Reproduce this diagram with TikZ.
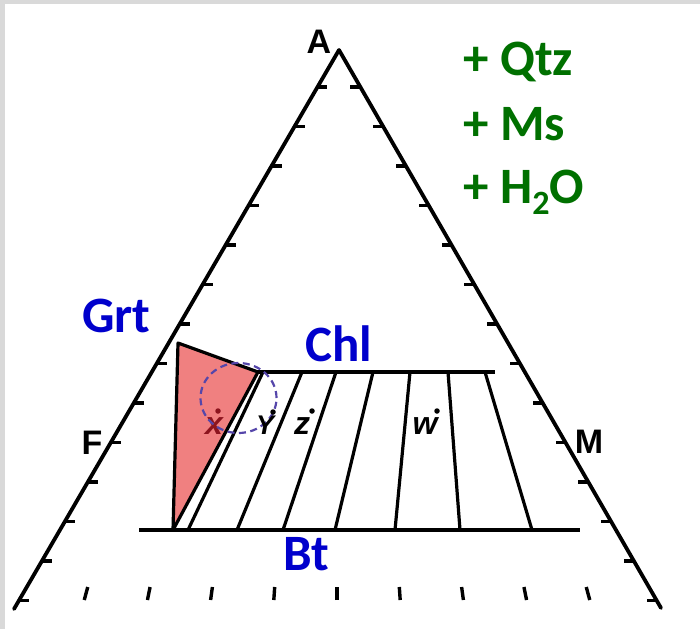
\documentclass[tikz,border=0pt]{standalone}
\usepackage{fontspec}
\usetikzlibrary{shapes.geometric}
\newfontfamily\lblfont{Carlito}
\newfontfamily\helfont{Liberation Sans}
\definecolor{lblue}{RGB}{0,0,204}
\definecolor{lgreen}{RGB}{0,112,0}
\definecolor{redfill}{RGB}{240,128,128}
\definecolor{xred}{RGB}{140,20,30}
\definecolor{circblue}{RGB}{85,70,170}
\tikzset{
  sideline/.style={line width=3.8pt, line cap=round, line join=round},
  tickline/.style={line width=3.4pt},
  tieline/.style={line width=3.2pt, line cap=round},
  baseline3/.style={line width=4pt},
  phase/.style={inner sep=0pt, anchor=base west, text=lblue, font=\lblfont\bfseries\fontsize{51}{60}\selectfont},
  extra/.style={inner sep=0pt, anchor=base west, text=lgreen, font=\lblfont\bfseries\fontsize{51}{60}\selectfont},
  corner/.style={inner sep=0pt, font=\helfont\bfseries\fontsize{34}{34}\selectfont},
  ptlabel/.style={inner sep=0pt, anchor=base, font=\helfont\bfseries\itshape\fontsize{32}{32}\selectfont},
  ptdot/.style={fill, circle, inner sep=0pt, minimum size=5.5pt}
}
\begin{document}
\begin{tikzpicture}[x=1pt,y=-1pt]
\useasboundingbox (0,0) rectangle (700,629);
\fill[gray!30] (0,0) rectangle (700,629);
\fill[white] (5,4) rectangle (700,629);

% triangle sides (no base line)
\coordinate (A) at (339,50);
\coordinate (Fc) at (14,609);
\coordinate (Mc) at (661,608);
\draw[sideline] (Fc) -- (A) -- (Mc);

% side ticks
\foreach \j in {0,...,13}{
  \pgfmathsetmacro\yy{87+39.5*\j}
  \pgfmathsetmacro\xl{339-0.5814*(\yy-50)}
  \pgfmathsetmacro\xr{339+0.5771*(\yy-50)}
  \draw[tickline] (\xl,\yy) -- ++(10,0);
  \draw[tickline] (\xr,\yy) -- ++(-10,0);
}
% bottom ticks
\foreach \k in {0,...,8}{
  \pgfmathsetmacro\xc{86+62.75*\k}
  \pgfmathsetmacro\ss{(337-\xc)*0.007}
  \draw[tickline] (\xc-\ss,600) -- (\xc+\ss,587);
}

% corner labels
\node[corner] (lA) at (319,42) {A};
\node[corner] (lF) at (92,443) {F};
\node[corner] (lM) at (589,442) {M};

% garnet triangle
\coordinate (Grt) at (178,343);
\coordinate (C1) at (258,372);
\coordinate (B1) at (173,530);
\fill[redfill] (Grt) -- (C1) -- (B1) -- cycle;

% x point (under red)
\node[ptlabel, text=xred] (px) at (214,434) {x};
\node[ptdot, fill=xred] (dx) at (218,411) {};

\draw[tieline, line join=round] (Grt) -- (C1) -- (B1) -- cycle;

% Chl and Bt lines
\coordinate (ChlR) at (495,372);
\coordinate (BtL) at (139,530);
\coordinate (BtR) at (580,530);
\draw[baseline3] (C1) -- (ChlR);
\draw[baseline3] (BtL) -- (BtR);

% tie lines
\foreach \t/\b [count=\i] in {263/188,302/237,336/283,373/335,410/395,448/460,485/532}{
  \coordinate (T\i) at (\t,372);
  \coordinate (U\i) at (\b,530);
  \draw[tieline] (T\i) -- (U\i);
}

% dashed circle
\node[draw=circblue, line width=2.2pt, dash pattern=on 7pt off 4.5pt, ellipse, minimum width=76pt, minimum height=70pt, inner sep=0pt] (circ) at (238.5,398) {};

% other points
\node[ptlabel, font=\helfont\bfseries\itshape\fontsize{27}{27}\selectfont] (py) at (265,434) {Y};
\node[ptdot] (dy) at (273,412) {};
\node[ptlabel] (pz) at (302,434) {z};
\node[ptdot] (dz) at (312,411) {};
\node[ptlabel] (pw) at (425,434) {w};
\node[ptdot] (dw) at (437,411) {};

% phase labels
\node[phase] (lGrt) at (82,332) {Grt};
\node[phase] (lChl) at (305,361) {Chl};
\node[phase] (lBt) at (283,570) {Bt};

% extra phases
\node[extra] (q) at (463,75) {+ Qtz};
\node[extra] (m) at (463,140) {+ Ms};
\node[extra] (h) at (463,203) {+ H\raisebox{-11pt}{\fontsize{34}{34}\selectfont 2}O};
\end{tikzpicture}
\end{document}
